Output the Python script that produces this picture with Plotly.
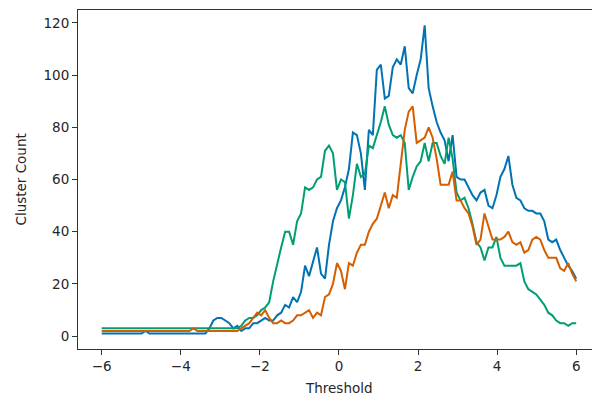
import numpy as np
import plotly.graph_objects as go

# Threshold grid (120 samples between -6 and 6)
threshold = np.linspace(-6, 6, 120)

blue_counts = (
    [1] * 11 + [2] + [1] * 15 +
    [3, 6, 7, 7, 6, 5, 3, 4, 2, 3, 3, 5, 5, 6, 7, 6, 6, 8, 9, 12, 11, 15, 13, 17,
     27, 23, 29, 34, 24, 22, 35, 44, 49] +
    [52, 57, 64, 78, 77, 70, 56, 79, 77, 102,
     104, 91, 92, 103, 106, 104, 111, 95, 93, 100,
     106, 119, 95, 88, 82, 78, 75, 67, 77, 61,
     60, 60, 57, 54, 52, 55, 56, 50, 49, 54,
     61, 64, 69, 58, 53, 52, 49, 48, 48, 47,
     47, 44, 37, 36, 37, 33, 30, 27, 25, 22]
)

orange_counts = (
    [2] * 23 + [3] + [2] * 11 +
    [3, 4, 5, 7, 9, 8, 10, 7, 5, 5, 6, 5, 5, 6, 8, 8, 9, 10, 7, 9, 8, 15, 16, 20, 28] +
    [25, 18, 28, 27, 32, 35, 35, 40, 43, 45,
     50, 55, 49, 54, 53, 65, 79, 86, 88, 74,
     75, 76, 80, 76, 68, 58, 58, 58, 63, 52,
     52, 49, 47, 42, 35, 37, 47, 42, 37, 37,
     37, 38, 40, 36, 35, 36, 32, 33, 37, 38,
     37, 33, 30, 30, 30, 26, 25, 28, 24, 21]
)

green_counts = (
    [3] * 35 +
    [4, 6, 7, 7, 8, 10, 11, 13, 21, 28, 34, 40, 40, 35, 44, 47, 57, 56, 57, 60,
     61, 71, 73, 70, 56] +
    [60, 59, 45, 54, 66, 61, 62, 73, 72, 77,
     82, 88, 81, 77, 76, 77, 74, 56, 61, 65,
     67, 74, 67, 74, 74, 69, 66, 76, 68, 55,
     52, 53, 49, 43, 36, 34, 29, 34, 34, 38,
     30, 27, 27, 27, 27, 28, 21, 18, 17, 16,
     14, 12, 9, 8, 6, 5, 5, 4, 5, 5]
)

x_ticks = [-6, -4, -2, 0, 2, 4, 6]
x_tick_labels = ["\u22126", "\u22124", "\u22122", "0", "2", "4", "6"]
y_ticks = [0, 20, 40, 60, 80, 100, 120]

FONT = "DejaVu Sans"
fig = go.Figure()
for ys, col in [(blue_counts, "#0173B2"), (green_counts, "#029E73"), (orange_counts, "#D55E00")]:
    fig.add_trace(go.Scatter(x=threshold, y=ys, mode="lines",
                             line=dict(color=col, width=2), showlegend=False,
                             hoverinfo="skip"))

axis_common = dict(showgrid=False, zeroline=False, showline=True, linecolor="#333333",
                   linewidth=1, ticks="outside", ticklen=5, tickwidth=1, tickcolor="#333333",
                   tickfont=dict(family=FONT, size=13.5, color="#262626"))

fig.update_layout(
    width=592, height=396,
    margin=dict(l=78, r=0, t=10, b=47, pad=0),
    paper_bgcolor="white", plot_bgcolor="white",
    xaxis=dict(range=[-6.6, 6.4], tickvals=x_ticks, ticktext=x_tick_labels,
               mirror=True, **axis_common),
    yaxis=dict(range=[-4.9, 124.9], tickvals=y_ticks, **axis_common),
    annotations=[
        dict(text="Threshold", xref="x", yref="paper", x=0, y=-0.115,
             xanchor="center", yanchor="middle", showarrow=False,
             font=dict(family=FONT, size=13.5, color="#262626")),
        dict(text="Cluster Count", xref="paper", yref="paper", x=-0.1128, y=0.5,
             xanchor="center", yanchor="middle", textangle=-90, showarrow=False,
             font=dict(family=FONT, size=13.5, color="#262626")),
    ],
)

fig.write_html("out.html")
